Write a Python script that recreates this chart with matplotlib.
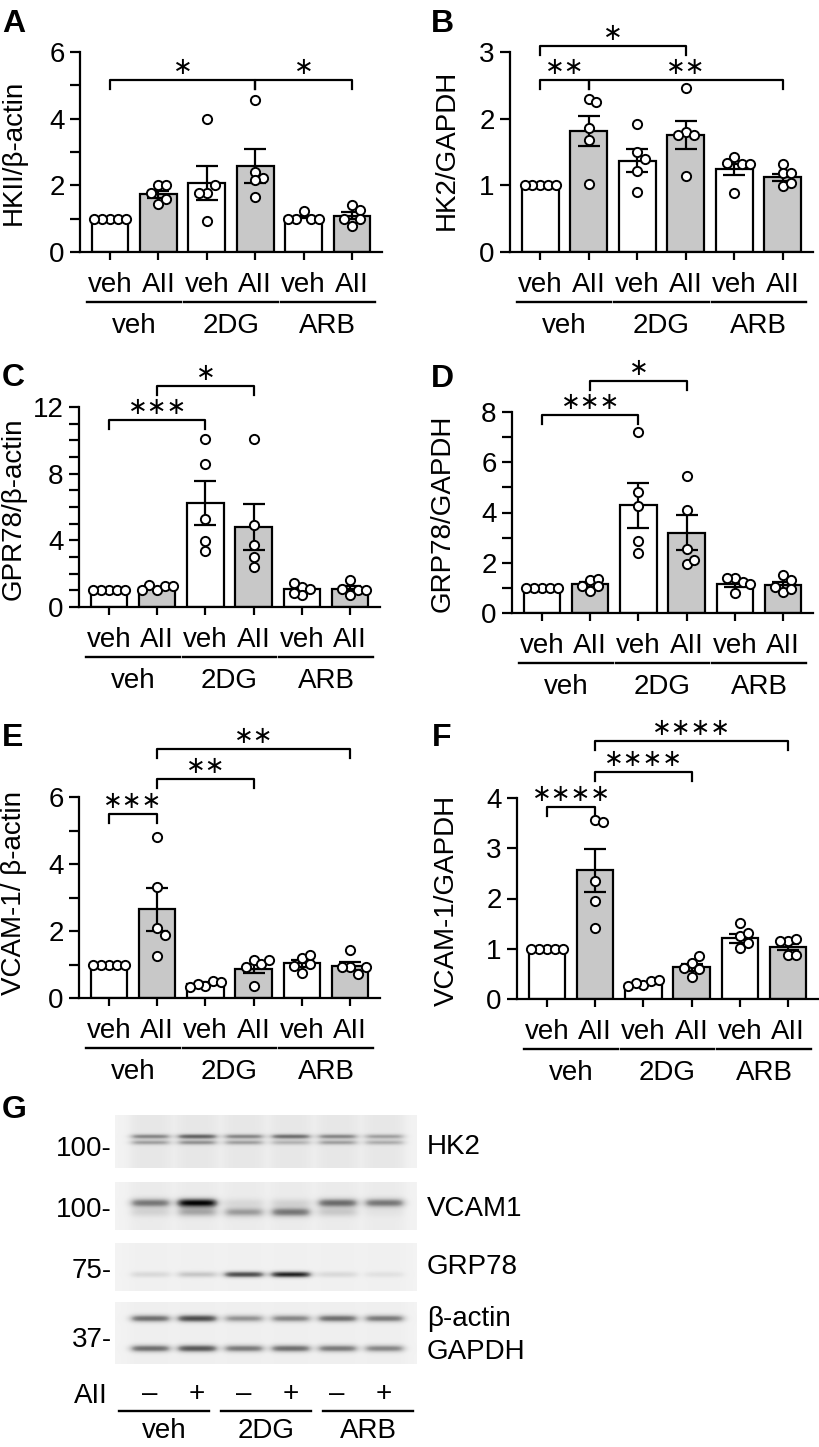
import numpy as np
import matplotlib.pyplot as plt
from matplotlib.transforms import blended_transform_factory

plt.rcParams['font.family'] = ['Liberation Sans', 'DejaVu Sans']

W, H = 819, 1447

conds = ['veh', 'AII', 'veh', 'AII', 'veh', 'AII']
groups = ['veh', '2DG', 'ARB']

# A: HKII / beta-actin
a_mean = [1.0, 1.73, 2.08, 2.58, 1.05, 1.09]
a_sem = [0.0, 0.11, 0.51, 0.50, 0.04, 0.11]
a_pts = [[1, 1, 1, 1, 1], [2.0, 2.0, 1.45, 1.6, 1.78], [3.98, 1.78, 2.01, 1.78, 0.93],
         [4.56, 2.41, 2.21, 2.16, 1.64], [1.22, 1.0, 1.0, 1.0, 1.0], [1.42, 1.27, 0.78, 1.0, 0.98]]
a_brk = [(0, 3, 5.16, '*'), (3, 5, 5.16, '*')]

# B: HK2 / GAPDH
b_mean = [1.0, 1.815, 1.37, 1.755, 1.24, 1.12]
b_sem = [0.0, 0.23, 0.175, 0.21, 0.085, 0.055]
b_pts = [[1, 1, 1, 1, 1], [2.3, 2.25, 1.86, 1.68, 1.02], [1.92, 1.5, 1.4, 1.22, 0.9],
         [2.46, 1.8, 1.76, 1.76, 1.14], [1.43, 1.32, 1.34, 1.32, 0.89], [1.32, 1.18, 1.18, 0.99, 1.04]]
b_brk = [(0, 3, 3.095, '*'), (0, 1, 2.58, '**'), (1, 5, 2.58, '**')]

# C: GPR78 / beta-actin
c_mean = [1.0, 1.16, 6.24, 4.8, 1.05, 1.1]
c_sem = [0.0, 0.06, 1.3, 1.38, 0.15, 0.15]
c_pts = [[1, 1, 1, 1, 1], [1.0, 1.24, 1.3, 1.24, 1.0], [10.06, 8.6, 5.3, 3.96, 3.36],
         [10.1, 4.94, 3.74, 3.0, 2.4], [1.2, 0.7, 1.05, 1.46, 0.82], [0.74, 1.04, 1.6, 1.1, 1.0]]
c_brk = [(0, 2, 11.24, '***'), (1, 3, 13.24, '*')]

# D: GRP78 / GAPDH
d_mean = [1.0, 1.14, 4.28, 3.2, 1.17, 1.1]
d_sem = [0.0, 0.09, 0.88, 0.7, 0.12, 0.14]
d_pts = [[1, 1, 1, 1, 1], [0.88, 1.3, 1.37, 1.06, 1.06], [7.2, 4.81, 4.26, 2.86, 2.4],
         [5.44, 4.08, 2.56, 1.96, 2.1], [1.41, 1.23, 1.41, 1.14, 0.8], [1.5, 0.84, 1.33, 1.03, 0.97]]
d_brk = [(0, 2, 7.89, '***'), (1, 3, 9.23, '*')]

# E: VCAM-1 / beta-actin
e_mean = [1.0, 2.65, 0.43, 0.88, 1.03, 0.96]
e_sem = [0.0, 0.64, 0.04, 0.14, 0.1, 0.12]
e_pts = [[1, 1, 1, 1, 1], [4.81, 3.3, 2.1, 1.89, 1.24], [0.37, 0.52, 0.42, 0.47, 0.32],
         [1.12, 1.02, 0.92, 1.12, 0.37], [1.2, 0.74, 1.02, 1.27, 0.97], [1.42, 0.92, 0.72, 0.94, 0.92]]
e_brk = [(0, 1, 5.48, '***'), (1, 3, 6.54, '**'), (1, 5, 7.44, '**')]

# F: VCAM-1 / GAPDH
f_mean = [1.0, 2.56, 0.3, 0.63, 1.21, 1.03]
f_sem = [0.0, 0.43, 0.03, 0.07, 0.09, 0.06]
f_pts = [[1, 1, 1, 1, 1], [3.56, 3.52, 2.35, 1.96, 1.41], [0.27, 0.36, 0.31, 0.38, 0.26],
         [0.72, 0.6, 0.43, 0.86, 0.62], [1.51, 1.25, 1.32, 1.01, 1.11], [1.16, 1.2, 1.16, 0.87, 0.87]]
f_brk = [(0, 1, 3.82, '****'), (1, 3, 4.51, '****'), (1, 5, 5.14, '****')]

# G: western blot band intensities (0 = none, 1 = darkest), 6 lanes
hk2_top = [0.45, 0.6, 0.45, 0.55, 0.45, 0.35]
hk2_bot = [0.35, 0.4, 0.35, 0.28, 0.35, 0.3]
vcam_top = [0.55, 1.0, 0.12, 0.15, 0.6, 0.55]
vcam_bot = [0.15, 0.35, 0.4, 0.55, 0.2, 0.05]
grp78 = [0.15, 0.25, 0.75, 0.9, 0.15, 0.1]
actin = [0.6, 0.75, 0.45, 0.5, 0.6, 0.55]
gapdh = [0.6, 0.7, 0.55, 0.6, 0.55, 0.5]
mw_labels = ['100-', '100-', '75-', '37-']
blot_names = ['HK2', 'VCAM1', 'GRP78', 'β-actin', 'GAPDH']
signs = ['\u2013', '+', '\u2013', '+', '\u2013', '+']

FS = 20
fig = plt.figure(figsize=(W / 100, H / 100), dpi=100)


def add_ax(l, t, r, b):
    return fig.add_axes([l / W, 1 - b / H, (r - l) / W, (b - t) / H])


def swarm(vals, ppu_x, ppu_y, step=7.8):
    placed, offs = [], []
    for v in vals:
        for c in [0, 1, -1, 2, -2, 3, -3]:
            if all(np.hypot((c - pc) * step, (v - pv) * ppu_y) >= step * 0.99 for pc, pv in placed):
                break
        placed.append((c, v))
        offs.append(c * step / ppu_x)
    return np.array(offs)


def bar_panel(rect, means, sems, pts, ymax, major, minor, brackets, ylabel, ylab_xy, letter, letter_xy):
    ax = add_ax(*rect)
    ax_w, ax_h = rect[2] - rect[0], rect[3] - rect[1]
    x = np.arange(6)
    ax.set_xlim(-0.62, 5.62)
    ax.set_ylim(0, ymax)
    ppu_x = ax_w / 6.24
    ppu_y = ax_h / ymax
    ax.bar(x, means, width=0.76, color=['white', '#c8c8c8'] * 3, edgecolor='black', linewidth=1.6, zorder=2)
    ax.errorbar(x, means, yerr=sems, fmt='none', ecolor='black', elinewidth=1.6,
                capsize=8, capthick=1.6, zorder=3)
    for i, vals in enumerate(pts):
        ax.scatter(i + swarm(vals, ppu_x, ppu_y), vals, s=44, facecolor='white',
                   edgecolor='black', linewidth=1.4, zorder=4, clip_on=False)
    for s in ['top', 'right']:
        ax.spines[s].set_visible(False)
    for s in ['left', 'bottom']:
        ax.spines[s].set_linewidth(1.6)
    ax.set_xticks(x)
    ax.set_xticklabels([])
    ax.tick_params(axis='x', length=6, width=1.6)
    ax.set_yticks(major)
    ax.set_yticks(minor, minor=True)
    ax.tick_params(axis='y', which='both', length=7, width=1.6, labelsize=FS, pad=4)
    tr = blended_transform_factory(ax.transData, ax.transAxes)
    for i, c in enumerate(conds):
        ax.text(i, -33 / ax_h, c, transform=tr, ha='center', va='center', fontsize=FS)
    for g, name in enumerate(groups):
        ax.plot([2 * g - 0.47, 2 * g + 1.47], [-50 / ax_h] * 2, transform=tr, color='black',
                lw=1.7, clip_on=False)
        ax.text(2 * g + 0.5, -74 / ax_h, name, transform=tr, ha='center', va='center', fontsize=FS)
    drop = 9 / ppu_y
    for i, j, y, lab in brackets:
        ax.plot([i, i, j, j], [y - drop, y, y, y - drop], color='black', lw=1.6, clip_on=False)
        ax.text((i + j) / 2, y + 13 / ppu_y, '\u2217' * len(lab), ha='center', va='center',
                fontsize=17, family='DejaVu Sans', clip_on=False)
    fig.text(ylab_xy[0] / W, 1 - ylab_xy[1] / H, ylabel, rotation=90, ha='center', va='center', fontsize=FS)
    fig.text(letter_xy[0] / W, 1 - letter_xy[1] / H, letter, fontsize=23, fontweight='bold',
             ha='left', va='baseline')
    return ax


bar_panel((80, 52, 382, 252), a_mean, a_sem, a_pts, 6, [0, 2, 4, 6], [1, 3, 5], a_brk,
          'HKII/β-actin', (14, 152), 'A', (2, 32))
bar_panel((510, 52, 813, 252), b_mean, b_sem, b_pts, 3, [0, 1, 2, 3], [], b_brk,
          'HK2/GAPDH', (447, 150), 'B', (431, 32))
bar_panel((79, 407, 380, 607), c_mean, c_sem, c_pts, 12, [0, 4, 8, 12],
          [1, 2, 3, 5, 6, 7, 9, 10, 11], c_brk, 'GPR78/β-actin', (14, 509), 'C', (2, 386))
bar_panel((512, 412, 813, 613), d_mean, d_sem, d_pts, 8, [0, 2, 4, 6, 8], [1, 3, 5, 7], d_brk,
          'GRP78/GAPDH', (443, 513), 'D', (431, 387))
bar_panel((79, 797, 380, 998), e_mean, e_sem, e_pts, 6, [0, 2, 4, 6], [1, 3, 5], e_brk,
          'VCAM-1/ β-actin', (14, 893), 'E', (2, 746))
bar_panel((517, 798, 818, 999), f_mean, f_sem, f_pts, 4, [0, 1, 2, 3, 4], [], f_brk,
          'VCAM-1/GAPDH', (447, 900), 'F', (432, 746))

# ---- G: western blot ----
fig.text(2 / W, 1 - 1118 / H, 'G', fontsize=23, fontweight='bold', ha='left', va='baseline')
bl, br = 115, 417
lane_x = 35 + 46.8 * np.arange(6)
strips = [
    (1115, 1168, 0.07, [(21, hk2_top, 1.8), (27, hk2_bot, 1.8)]),
    (1182, 1230, 0.05, [(21, vcam_top, 3.0), (30, vcam_bot, 3.2)]),
    (1243, 1291, 0.02, [(31, grp78, 2.2)]),
    (1302, 1364, 0.03, [(16, actin, 2.6), (46, gapdh, 2.6)]),
]
for k, (top, bot, smear, bands) in enumerate(strips):
    h, w = bot - top, br - bl
    yy, xx = np.mgrid[0:h, 0:w]
    lane = np.zeros((h, w))
    for cx in lane_x:
        lane += 1 / (1 + np.exp((np.abs(xx - cx) - 21) / 3.0))
    img = 0.1 + smear * lane
    for yc, amps, sy in bands:
        for cx, amp in zip(lane_x, amps):
            prof = 1 / (1 + np.exp((np.abs(xx - cx) - 19) / 2.5))
            img += amp * 0.85 * prof * np.exp(-0.5 * ((yy - yc) / sy) ** 2)
    bax = add_ax(bl, top, br, bot)
    bax.imshow(np.clip(img, 0, 1), cmap='Greys', vmin=0, vmax=1, aspect='auto',
               extent=(0, w, h, 0), interpolation='bilinear')
    bax.axis('off')

for lab, yc in zip(mw_labels, [1149, 1210, 1271, 1340]):
    fig.text(112 / W, 1 - yc / H, lab, ha='right', va='center', fontsize=FS)
for lab, yc in zip(blot_names, [1147, 1209, 1267, 1319, 1352]):
    fig.text(427 / W, 1 - yc / H, lab, ha='left', va='center', fontsize=FS)

fig.text(108 / W, 1 - 1396 / H, 'AII', ha='right', va='center', fontsize=FS)
for i, s in enumerate(signs):
    fig.text((bl + lane_x[i]) / W, 1 - 1394 / H, s, ha='center', va='center', fontsize=FS)
for g, name in enumerate(groups):
    x0 = 119 + 102 * g
    fig.add_artist(plt.Line2D([x0 / W, (x0 + 90) / W], [1 - 1411 / H] * 2, color='black', lw=1.7))
    fig.text((x0 + 45) / W, 1 - 1431 / H, name, ha='center', va='center', fontsize=FS)

fig.savefig('out.png', dpi=100)
